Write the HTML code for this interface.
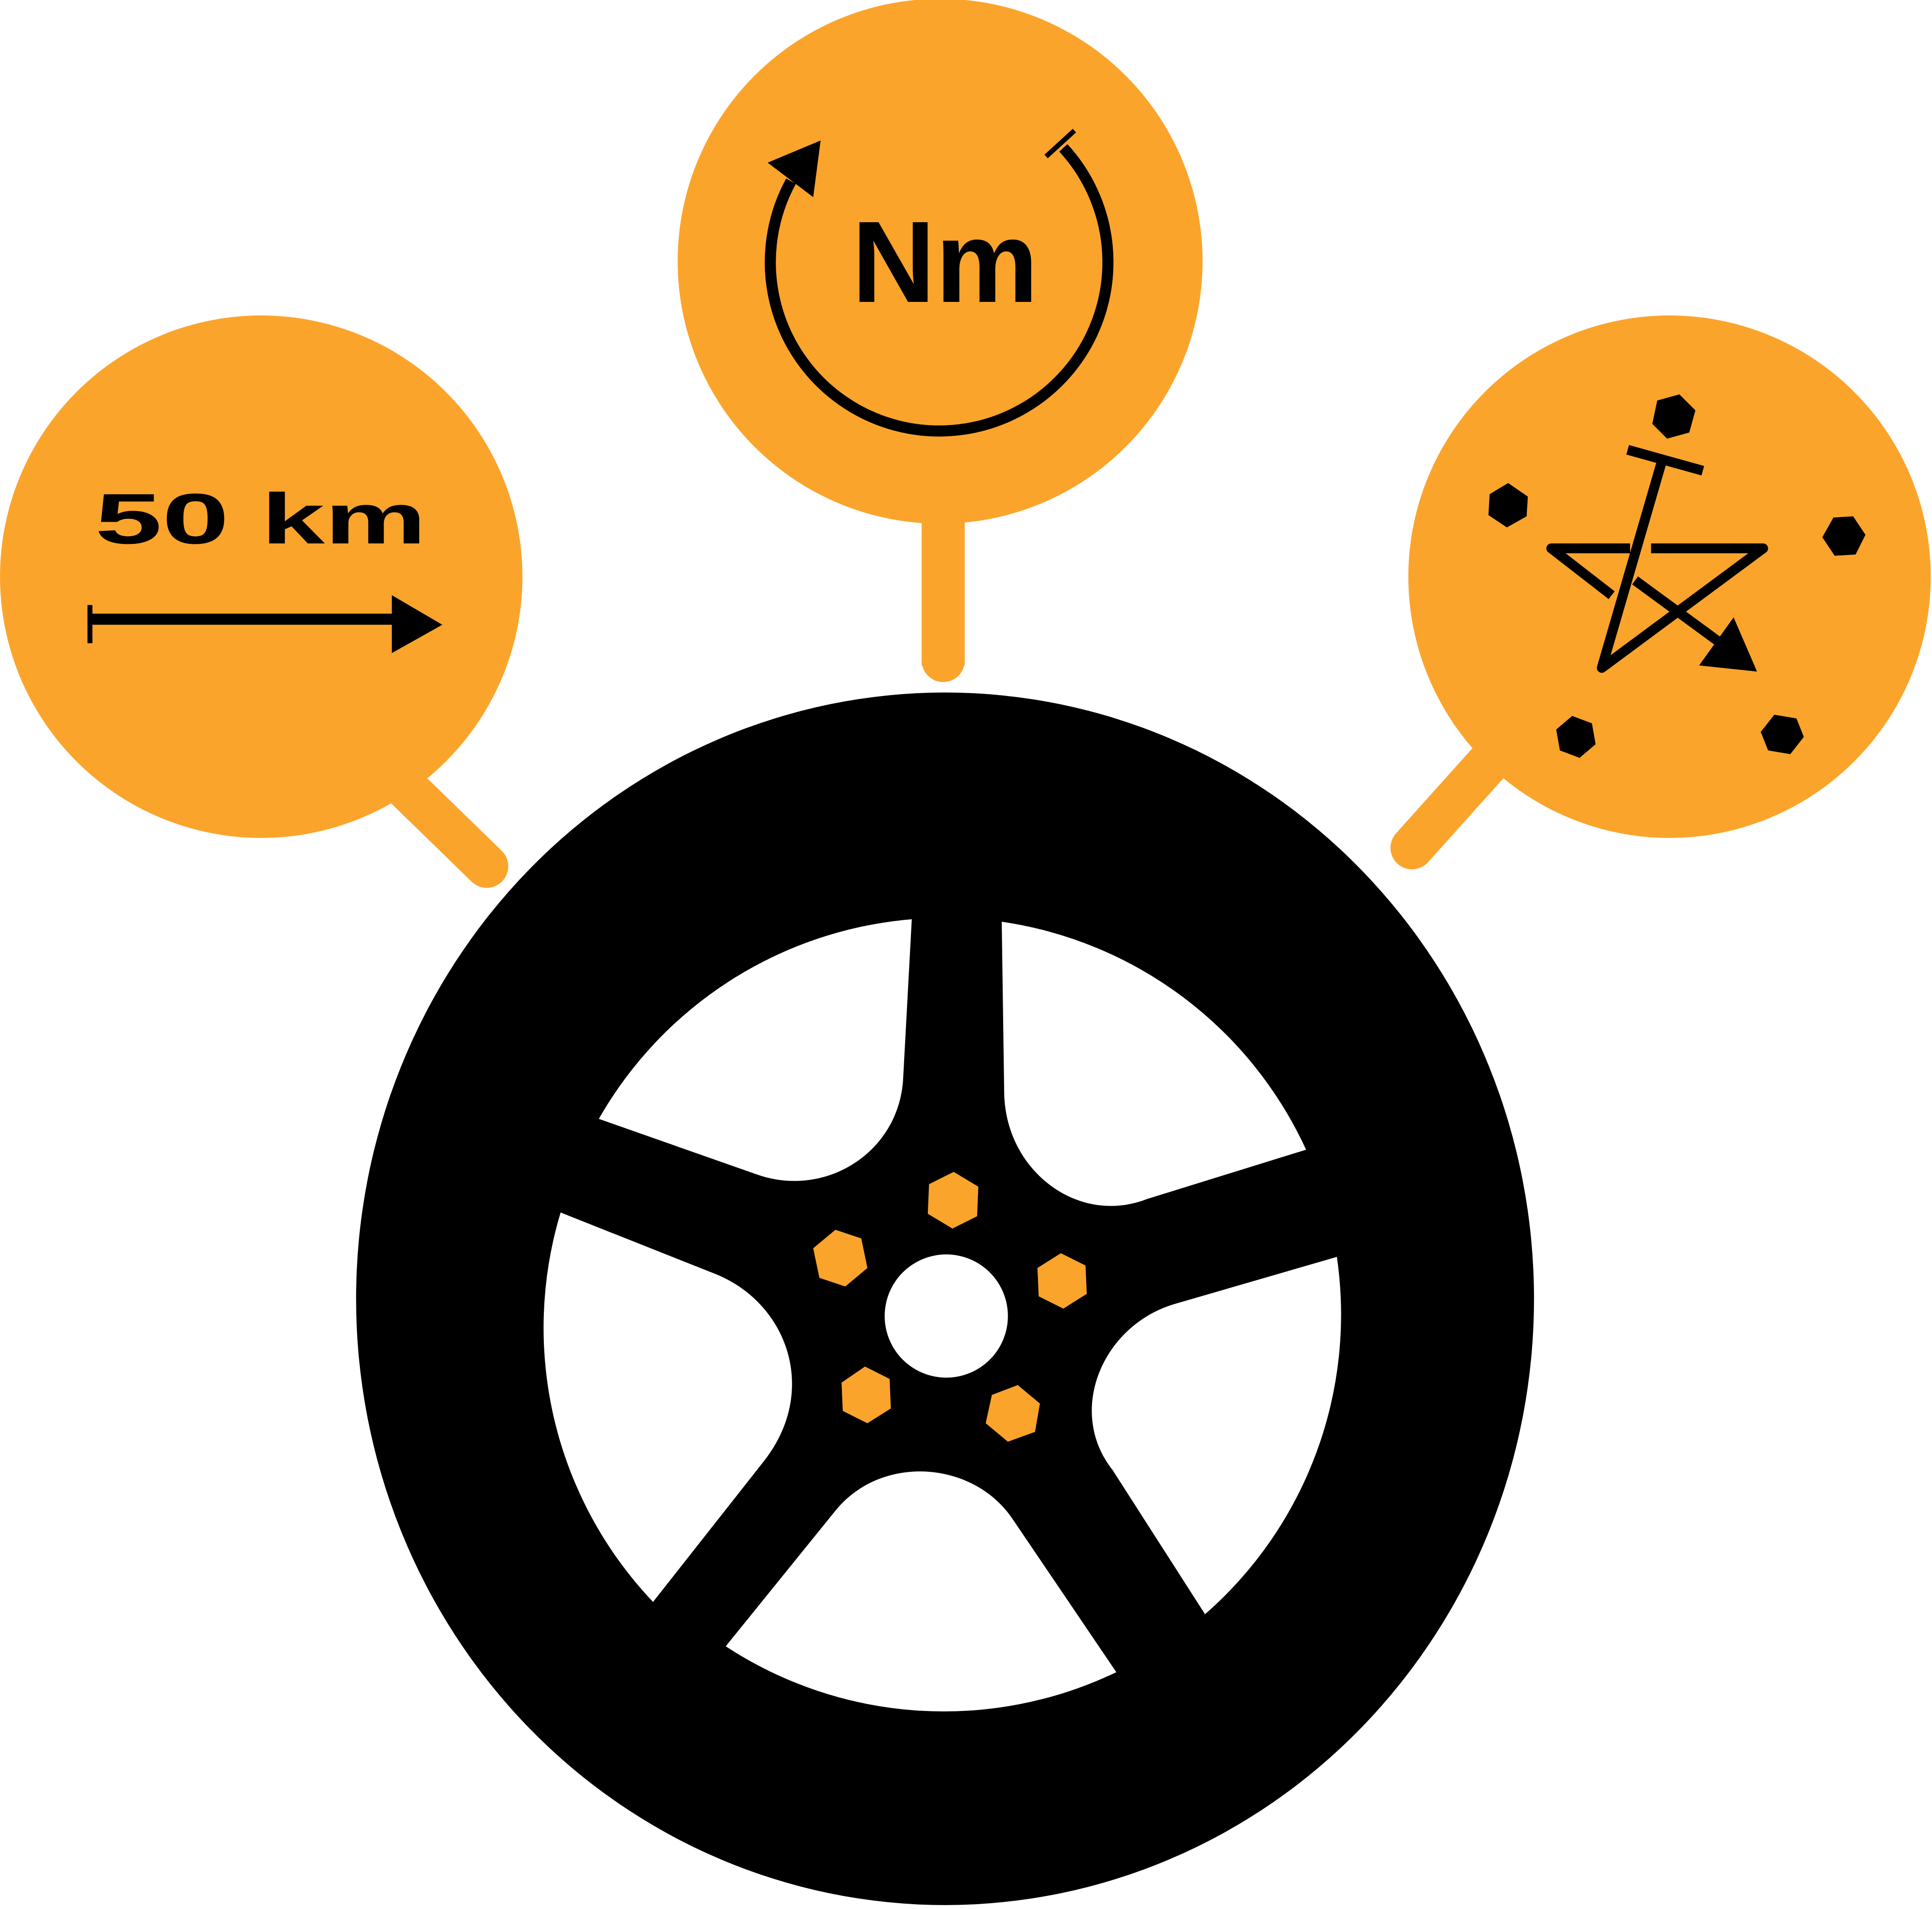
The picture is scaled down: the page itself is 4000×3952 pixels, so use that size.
<!DOCTYPE html>
<html><head><meta charset="utf-8"><style>html,body{margin:0;padding:0;background:#fff}svg{display:block}</style></head>
<body>
<svg width="4000" height="3952" viewBox="0 0 1568 1549.2" xmlns="http://www.w3.org/2000/svg">
<!-- Tire -->
<ellipse cx="767" cy="1054" rx="478" ry="492" fill="#000"/>
<g fill="#fff">
<path d="M740,746 L733,875 C730,935 670,973 614,953 L486,908 A323,323 0 0 1 740,746 Z"/>
<path d="M813,748 L815,887 C816,950 875,995 931,973 L1060,933 A323,323 0 0 0 813,748 Z"/>
<path d="M455,984 L581,1034 C640,1058 665,1130 619,1187 L530,1300 A323,323 0 0 1 455,984 Z"/>
<path d="M589,1336 L678,1226 C715,1180 790,1185 822,1233 L906,1357 A323,323 0 0 1 589,1336 Z"/>
<path d="M1085,1020 L954,1058 C895,1075 865,1145 903,1193 L978,1310 A323,323 0 0 0 1085,1020 Z"/>
<circle cx="768" cy="1068" r="50"/>
</g>
<g fill="#FBA42C">
<polygon points="774,951 794,963 793,987 773,997 753,985 754,961"/>
<polygon points="678,998 699,1005 704,1029 686,1044 665,1037 660,1013"/>
<polygon points="861,1017 881,1027 882,1050 863,1062 843,1052 842,1029"/>
<polygon points="702,1109 722,1119 723,1143 704,1155 684,1145 683,1122"/>
<polygon points="826,1124 844,1139 840,1162 818,1170 800,1155 805,1132"/>
</g>
<!-- Top bubble -->
<g fill="#FBA42C">
<circle cx="763" cy="212" r="213"/>
<rect x="748" y="380" width="35" height="160"/>
<circle cx="765.5" cy="536" r="17.5"/>
</g>
<text x="767" y="245" font-family="Liberation Sans, sans-serif" font-weight="bold" font-size="94" text-anchor="middle" fill="#000">Nm</text>
<path d="M642,147 A137,137 0 1 0 863,120" fill="none" stroke="#000" stroke-width="9"/>
<polygon points="623,132 666,114 660,160" fill="#000"/>
<line x1="849" y1="127" x2="872" y2="106" stroke="#000" stroke-width="4"/>
<!-- Left bubble -->
<line x1="320" y1="630" x2="395" y2="703" stroke="#FBA42C" stroke-width="35" stroke-linecap="round"/>
<circle cx="212" cy="468" r="212" fill="#FBA42C"/>
<text x="77" y="441" font-family="Liberation Sans, sans-serif" font-weight="bold" font-size="58" textLength="109" lengthAdjust="spacingAndGlyphs" fill="#000">50</text>
<text x="212" y="441" font-family="Liberation Sans, sans-serif" font-weight="bold" font-size="58" textLength="134" lengthAdjust="spacingAndGlyphs" fill="#000">km</text>
<rect x="73" y="498" width="250" height="9" fill="#000"/>
<rect x="71" y="491" width="4" height="31" fill="#000"/>
<polygon points="318,483 359,507 318,530" fill="#000"/>
<!-- Right bubble -->
<line x1="1225" y1="600" x2="1146" y2="688" stroke="#FBA42C" stroke-width="35" stroke-linecap="round"/>
<circle cx="1355" cy="468" r="212" fill="#FBA42C"/>
<g fill="#000">
<polygon points="1224,392 1240,403 1239,419 1223,428 1208,418 1209,401"/>
<polygon points="1345,325 1363,320 1376,333 1371,351 1353,356 1341,344"/>
<polygon points="1488,420 1504,419 1514,434 1506,450 1489,451 1479,436"/>
<polygon points="1276,581 1292,587 1295,604 1282,615 1266,609 1263,592"/>
<polygon points="1440,580 1458,583 1464,598 1453,612 1435,609 1429,594"/>
<polygon points="1407,501 1426,545 1379,540"/>
</g>
<g fill="none" stroke="#000" stroke-width="8" stroke-linejoin="round">
<polyline points="1323,445 1259,445 1308,483"/>
<polyline points="1340,445 1431,445 1300,542 1350,370"/>
<line x1="1321" y1="365" x2="1382" y2="382"/>
<line x1="1327" y1="471" x2="1398" y2="523"/>
</g>
</svg>
</body></html>
